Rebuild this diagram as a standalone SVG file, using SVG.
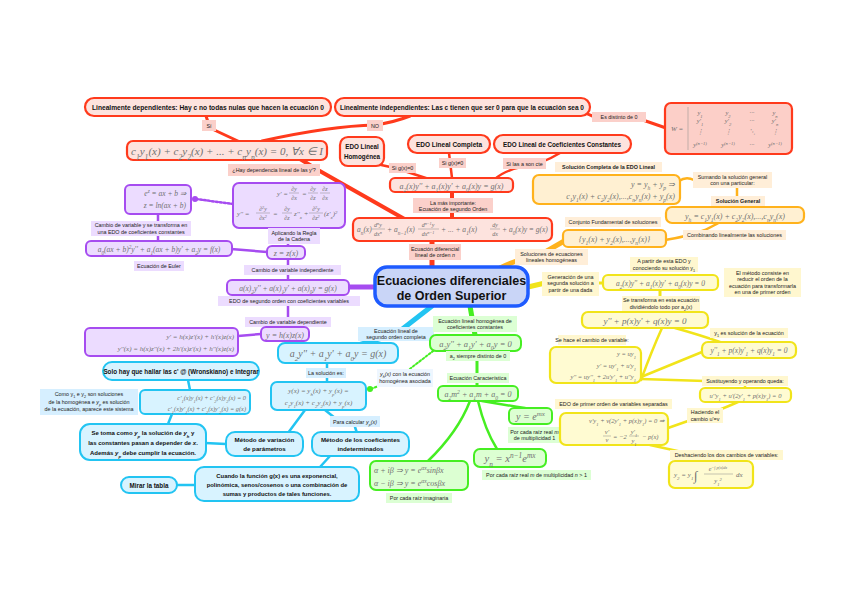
<svg xmlns="http://www.w3.org/2000/svg" width="848" height="599" viewBox="0 0 848 599">
<style>
.l{font-family:"Liberation Sans",Arial,sans-serif;font-size:5.4px;fill:#222;text-anchor:middle}
.bt{font-family:"Liberation Sans",Arial,sans-serif;font-weight:bold;fill:#111;text-anchor:middle}
.eq{font-family:"Liberation Serif","Times New Roman",serif;font-style:italic;fill:#707070}
.m{text-anchor:middle}.e{text-anchor:end}
.s{font-size:70%;baseline-shift:sub}.p{font-size:70%;baseline-shift:super}
.rn{fill:#fde3de;stroke:#ff3a1c;stroke-width:2.2}
.rl{fill:#fbd0ca}
.pn{fill:#ecdcff;stroke:#a64cf0;stroke-width:2}
.pl{fill:#ecdcff}
.cn{fill:#d8f3ff;stroke:#22c4f2;stroke-width:2}
.cl{fill:#d6efff}
.gn{fill:#dcffd2;stroke:#46ee22;stroke-width:2}
.gl{fill:#dcffd4}
.on{fill:#fff0d2;stroke:#ffb21c;stroke-width:2.2}
.ol{fill:#ffeed8}
.yn{fill:#fffbd2;stroke:#f1e41a;stroke-width:2.2}
.yl{fill:#fff7cf}
.cr{fill:none;stroke:#ff3a1c;stroke-linecap:round;stroke-linejoin:round}
.cp{fill:none;stroke:#a64cf0;stroke-linecap:round}
.cc{fill:none;stroke:#22c4f2;stroke-linecap:round;stroke-linejoin:round}
.cg{fill:none;stroke:#46ee22;stroke-linecap:round;stroke-linejoin:round}
.co{fill:none;stroke:#ffb21c;stroke-linecap:round;stroke-linejoin:round}
.cy{fill:none;stroke:#f1e41a;stroke-linecap:round;stroke-linejoin:round}
.fl{stroke:#888;stroke-width:0.5}
</style>
<rect width="848" height="599" fill="#fff"/>
<g id="connectors">
<!-- red -->
<path class="cr" stroke-width="5" d="M432,268 L432,240"/>
<path class="cr" stroke-width="4" d="M452,218 L452,192"/>
<path class="cr" stroke-width="4" d="M408,221 L318,170 L300,159"/>
<path class="cr" stroke-width="3" d="M240,142 L210,128 L206,116"/>
<path class="cr" stroke-width="3" d="M262,141 Q330,126 375,125 Q395,122 410,116"/>
<path class="cr" stroke-width="3" d="M583,111 Q592,118 605,118 L640,119 L666,128"/>
<path class="cr" stroke-width="2.5" d="M372,163 L395,168 L432,180"/>
<path class="cr" stroke-width="2.5" d="M449,153 L452,178"/>
<path class="cr" stroke-width="2.5" d="M560,153 Q540,165 525,166 Q505,170 495,179"/>
<!-- purple -->
<path class="cp" stroke-width="5" d="M376,287 L348,287"/>
<path class="cp" stroke-width="2.5" d="M288,281 L288,258 M288,246 L288,228"/>
<path class="cp" stroke-width="2.5" d="M231,249 L267,252"/>
<path class="cp" stroke-width="2.5" d="M158,213 L158,241"/>
<path class="cp" stroke-width="2.5" stroke-dasharray="2,2" d="M196,199 L233,204"/>
<circle cx="195" cy="199" r="3" fill="#a64cf0"/>
<path class="cp" stroke-width="2.5" d="M288,294 L288,327"/>
<path class="cp" stroke-width="2.5" d="M261,334 L238,336"/>
<!-- cyan -->
<path class="cc" stroke-width="5" d="M432,306 L396,334 L355,346"/>
<path class="cc" stroke-width="2.5" d="M327,363 L327,382"/>
<path class="cc" stroke-width="2.5" d="M305,410 L288,433"/>
<path class="cc" stroke-width="2.5" d="M325,410 L335,418 M355,427 L357,433"/>
<path class="cc" stroke-width="2.5" d="M330,456 L320,467"/>
<path class="cc" stroke-width="2.5" d="M177,485 L195,485"/>
<path class="cc" stroke-width="2.5" d="M226,444 L205,443"/>
<path class="cc" stroke-width="2.5" d="M168,424 L172,414"/>
<path class="cc" stroke-width="2.5" d="M190,390 L188,380"/>
<!-- green -->
<path class="cg" stroke-width="5" d="M470,306 L475,335"/>
<path class="cg" stroke-width="3" d="M477,351 L477,386"/>
<path class="cg" stroke-width="2.5" d="M470,401 Q458,432 428,461"/>
<path class="cg" stroke-width="2.5" d="M478,401 Q485,430 497,449"/>
<path class="cg" stroke-width="2.5" d="M482,401 Q505,405 525,408"/>
<path class="cg" stroke-width="2" stroke-dasharray="2,2" d="M371,389 L398,378 L437,348"/>
<circle cx="370" cy="389" r="3" fill="#46ee22"/>
<!-- orange -->
<path class="co" stroke-width="5" d="M500,268 Q520,258 540,255 L566,240"/>
<path class="co" stroke-width="2.5" d="M665,240 Q690,236 705,230 Q715,225 720,222"/>
<path class="co" stroke-width="2.5" d="M737,207 L737,188"/>
<path class="co" stroke-width="2.5" d="M694,180 Q686,176 679,181"/>
<!-- yellow -->
<path class="cy" stroke-width="5" d="M528,287 L545,283"/>
<path class="cy" stroke-width="3" d="M598,283 L604,283"/>
<path class="cy" stroke-width="3" d="M660,290 L660,312"/>
<path class="cy" stroke-width="2.5" d="M662,328 Q652,350 641,380"/>
<path class="cy" stroke-width="2.5" d="M675,328 Q700,335 720,342"/>
<path class="cy" stroke-width="2.5" d="M641,377 L702,352"/>
<path class="cy" stroke-width="2.5" d="M641,379 L705,381"/>
<path class="cy" stroke-width="2.5" d="M745,386 L745,388"/>
<path class="cy" stroke-width="2.5" d="M738,402 Q720,410 705,415 L668,428"/>
<path class="cy" stroke-width="2.5" d="M650,445 L682,452 L700,461"/>
</g>

<!-- ===== RED ===== -->
<g id="lin-dep"><rect class="rn" x="85" y="98" width="246" height="18" rx="9"/><text class="bt" x="208" y="109.5" font-size="6.4" textLength="232" lengthAdjust="spacingAndGlyphs">Linealmente dependientes: Hay c no todas nulas que hacen la ecuación 0</text></g>
<g id="lbl-si"><rect class="rl" x="202" y="120" width="14" height="11"/><text class="l" x="209" y="127.5">Sí</text></g>
<g id="eq-c"><rect class="rn" x="127" y="141" width="200" height="19" rx="6"/><text class="eq m" x="227" y="155" font-size="11">c<tspan class="s">1</tspan>y<tspan class="s">1</tspan>(x) + c<tspan class="s">2</tspan>y<tspan class="s">2</tspan>(x) + ... + c<tspan class="s">n</tspan>y<tspan class="s">n</tspan>(x) = 0, ∀x ∈ I</text></g>
<g id="lbl-hay"><rect class="rl" x="228" y="164" width="92" height="12"/><text class="l" x="274" y="172">¿Hay dependencia lineal de las y<tspan class="p">i</tspan>?</text></g>
<g id="lin-indep"><rect class="rn" x="335" y="98" width="255" height="18" rx="9"/><text class="bt" x="462" y="109.5" font-size="6.4" textLength="244" lengthAdjust="spacingAndGlyphs">Linealmente independientes: Las c tienen que ser 0 para que la ecuación sea 0</text></g>
<g id="lbl-no"><rect class="rl" x="367" y="120" width="16" height="11"/><text class="l" x="375" y="127.5">NO</text></g>
<g id="lbl-dist"><rect class="rl" x="592" y="112" width="54" height="10"/><text class="l" x="619" y="119">Es distinto de 0</text></g>
<g id="wronsk"><rect x="665" y="103" width="127" height="51" rx="6" fill="#fccfc8" stroke="#ff3a1c" stroke-width="2.2"/>
<text class="eq" x="671" y="131" font-size="7">W =</text>
<line x1="688" y1="107" x2="688" y2="150" stroke="#888" stroke-width="0.5"/>
<g class="eq m" font-size="6.5"><text x="700" y="115">y<tspan class="s">1</tspan></text><text x="728" y="115">y<tspan class="s">2</tspan></text><text x="752" y="115">···</text><text x="775" y="115">y<tspan class="s">n</tspan></text>
<text x="700" y="123">y'<tspan class="s">1</tspan></text><text x="728" y="123">y'<tspan class="s">2</tspan></text><text x="752" y="123">···</text><text x="775" y="123">y'<tspan class="s">n</tspan></text>
<text x="700" y="134">⋮</text><text x="728" y="134">⋮</text><text x="752" y="134">⋱</text><text x="775" y="134">⋮</text>
<text x="700" y="147">y<tspan class="p">(n−1)</tspan></text><text x="728" y="147">y<tspan class="p">(n−1)</tspan></text><text x="752" y="147">···</text><text x="775" y="147">y<tspan class="p">(n−1)</tspan></text></g></g>
<g id="edo-homog"><rect class="rn" x="340" y="137" width="44" height="29" rx="8"/><text class="bt" x="362" y="149" font-size="6.3">EDO Lineal</text><text class="bt" x="362" y="159" font-size="6.3">Homogénea</text></g>
<g id="edo-compl"><rect class="rn" x="408" y="135" width="82" height="18" rx="9"/><text class="bt" x="449" y="146.5" font-size="6.5">EDO Lineal Completa</text></g>
<g id="edo-const"><rect class="rn" x="494" y="135" width="137" height="18" rx="9"/><text class="bt" x="562" y="146.5" font-size="6.3">EDO Lineal de Coeficientes Constantes</text></g>
<g id="lbl-g0"><rect class="rl" x="389" y="163" width="27" height="10"/><text class="l" x="402.5" y="170">Si g(x)=0</text></g>
<g id="lbl-gn0"><rect class="rl" x="439" y="158" width="27" height="10"/><text class="l" x="452.5" y="165">Si g(x)≠0</text></g>
<g id="lbl-cte"><rect class="rl" x="503" y="158" width="43" height="11"/><text class="l" x="524.5" y="165.5">Si las a son cte</text></g>
<g id="eq-ord2"><rect class="rn" x="390" y="178" width="123" height="14" rx="5"/><text class="eq m" x="451.5" y="188.5" font-size="8">a<tspan class="s">2</tspan>(x)y'' + a<tspan class="s">1</tspan>(x)y' + a<tspan class="s">0</tspan>(x)y = g(x)</text></g>
<g id="lbl-imp"><rect class="rl" x="413" y="198" width="80" height="15"/><text class="l" x="453" y="204.5">La más importante:</text><text class="l" x="453" y="210.5">Ecuación de segundo Orden</text></g>
<g id="eq-ordn"><rect class="rn" x="353" y="218" width="199" height="23" rx="6"/>
<g class="eq" font-size="7.5"><text x="357" y="232">a<tspan class="s">n</tspan>(x)</text>
<text class="m" x="378" y="227" font-size="6">d<tspan class="p">n</tspan>y</text><line class="fl" x1="372" y1="229" x2="385" y2="229"/><text class="m" x="378" y="236" font-size="6">dx<tspan class="p">n</tspan></text>
<text x="387" y="232">+ a<tspan class="s">n−1</tspan>(x)</text>
<text class="m" x="428" y="227" font-size="6">d<tspan class="p">n−1</tspan>y</text><line class="fl" x1="418" y1="229" x2="439" y2="229"/><text class="m" x="428" y="236" font-size="6">dx<tspan class="p">n−1</tspan></text>
<text x="441" y="232">+ ... + a<tspan class="s">1</tspan>(x)</text>
<text class="m" x="495" y="227" font-size="6">dy</text><line class="fl" x1="490" y1="229" x2="500" y2="229"/><text class="m" x="495" y="236" font-size="6">dx</text>
<text x="502" y="232">+ a<tspan class="s">0</tspan>(x)y = g(x)</text></g></g>
<g id="lbl-ordn"><rect class="rl" x="409" y="244" width="52" height="16"/><text class="l" x="435" y="250.5">Ecuación diferencial</text><text class="l" x="435" y="257">lineal de orden <tspan font-style="italic">n</tspan></text></g>

<!-- ===== CENTER ===== -->
<g id="center"><rect x="375" y="267" width="153" height="39" rx="12" fill="#c9d5f7" stroke="#1e5bff" stroke-width="3.5"/>
<text class="bt" x="451.5" y="284.5" font-size="12.5">Ecuaciones diferenciales</text><text class="bt" x="451.5" y="299.5" font-size="12.5">de Orden Superior</text></g>

<!-- ===== PURPLE ===== -->
<g id="chain"><rect class="pn" x="233" y="183" width="112" height="45" rx="6"/>
<g class="eq" font-size="7"><text x="277" y="196">y' =</text>
<text class="m" x="294" y="191" font-size="6">∂y</text><line class="fl" x1="289" y1="193" x2="299" y2="193"/><text class="m" x="294" y="200" font-size="6">∂x</text>
<text x="302" y="196">=</text>
<text class="m" x="313" y="191" font-size="6">∂y</text><line class="fl" x1="308" y1="193" x2="318" y2="193"/><text class="m" x="313" y="200" font-size="6">∂z</text>
<text class="m" x="325" y="191" font-size="6">∂z</text><line class="fl" x1="320" y1="193" x2="330" y2="193"/><text class="m" x="325" y="200" font-size="6">∂x</text>
<text x="237" y="216">y'' =</text>
<text class="m" x="263" y="211" font-size="6">∂<tspan class="p">2</tspan>y</text><line class="fl" x1="256" y1="213" x2="270" y2="213"/><text class="m" x="263" y="220" font-size="6">∂x<tspan class="p">2</tspan></text>
<text x="273" y="216">=</text>
<text class="m" x="287" y="211" font-size="6">∂y</text><line class="fl" x1="282" y1="213" x2="292" y2="213"/><text class="m" x="287" y="220" font-size="6">∂z</text>
<text x="294" y="216">z''<tspan class="s">x</tspan> +</text>
<text class="m" x="316" y="211" font-size="6">∂<tspan class="p">2</tspan>y</text><line class="fl" x1="309" y1="213" x2="323" y2="213"/><text class="m" x="316" y="220" font-size="6">∂z<tspan class="p">2</tspan></text>
<text x="324" y="216">(z'<tspan class="s">x</tspan>)<tspan class="p">2</tspan></text></g></g>
<g id="ez"><rect class="pn" x="125" y="185" width="66" height="29" rx="5"/><text class="eq e" x="186" y="196" font-size="7.5">e<tspan class="p">z</tspan> = ax + b ⇒</text><text class="eq e" x="186" y="208" font-size="7.5">z = ln(ax + b)</text></g>
<g id="lbl-cambio-cc"><rect class="pl" x="91" y="221" width="100" height="15"/><text class="l" x="141" y="227">Cambio de variable y se transforma en</text><text class="l" x="141" y="233.5">una EDO de coeficientes constantes</text></g>
<g id="euler"><rect class="pn" x="86" y="241" width="146" height="15" rx="5"/><text class="eq m" x="159" y="251.5" font-size="7.5">a<tspan class="s">0</tspan>(ax + b)<tspan class="p">2</tspan>y'' + a<tspan class="s">1</tspan>(ax + b)y' + a<tspan class="s">2</tspan>y = f(x)</text></g>
<g id="lbl-euler"><rect class="pl" x="134" y="261" width="50" height="10"/><text class="l" x="159" y="268">Ecuación de Euler</text></g>
<g id="lbl-cadena"><rect class="pl" x="268" y="228" width="52" height="16"/><text class="l" x="294" y="234.5">Aplicando la Regla</text><text class="l" x="294" y="241">de la Cadena</text></g>
<g id="zz"><rect class="pn" x="267" y="246" width="38" height="13" rx="5"/><text class="eq m" x="286" y="255.5" font-size="8">z = z(x)</text></g>
<g id="lbl-indep"><rect class="pl" x="244" y="265" width="97" height="10"/><text class="l" x="292.5" y="272">Cambio de variable independiente</text></g>
<g id="eq-var"><rect class="pn" x="227" y="280" width="122" height="15" rx="5"/><text class="eq m" x="288" y="290.5" font-size="7.5">a(x)<tspan class="s">2</tspan>y'' + a(x)<tspan class="s">1</tspan>y' + a(x)<tspan class="s">0</tspan>y = g(x)</text></g>
<g id="lbl-coefvar"><rect class="pl" x="218" y="296" width="142" height="10"/><text class="l" x="289" y="303">EDO de segundo orden con coeficientes variables</text></g>
<g id="lbl-dep"><rect class="pl" x="245" y="317" width="86" height="10"/><text class="l" x="288" y="324">Cambio de variable dependiente</text></g>
<g id="yh"><rect class="pn" x="261" y="327" width="48" height="14" rx="5"/><text class="eq m" x="285" y="337.5" font-size="8">y = h(x)z(x)</text></g>
<g id="yder"><rect class="pn" x="85" y="328" width="153" height="28" rx="5"/><text class="eq e" x="234" y="339" font-size="7">y' = h(x)z'(x) + h'(x)z(x)</text><text class="eq e" x="234" y="351" font-size="7">y''(x) = h(x)z''(x) + 2h'(x)z'(x) + h''(x)z(x)</text></g>

<!-- ===== CYAN ===== -->
<g id="lbl-compl"><rect class="cl" x="358" y="327" width="76" height="14"/><text class="l" x="396" y="332.5">Ecuación lineal de</text><text class="l" x="396" y="338.5">segundo orden completa</text></g>
<g id="eq-compl"><rect class="cn" x="278" y="343" width="120" height="20" rx="7"/><text class="eq m" x="338" y="357" font-size="10">a<tspan class="s">2</tspan>y'' + a<tspan class="s">1</tspan>y' + a<tspan class="s">0</tspan>y = g(x)</text></g>
<g id="lbl-sol"><rect class="cl" x="306" y="368" width="40" height="10"/><text class="l" x="326" y="375">La solución es:</text></g>
<g id="eq-sol"><rect class="cn" x="271" y="382" width="95" height="28" rx="6"/><text class="eq m" x="318.5" y="393" font-size="7">y(x) = y<tspan class="s">h</tspan>(x) + y<tspan class="s">p</tspan>(x) =</text><text class="eq m" x="318.5" y="405" font-size="7">c<tspan class="s">1</tspan>y<tspan class="s">1</tspan>(x) + c<tspan class="s">2</tspan>y<tspan class="s">2</tspan>(x) + y<tspan class="s">p</tspan>(x)</text></g>
<g id="lbl-homasoc"><rect x="377" y="369" width="56" height="18" fill="#eef6ff"/><text class="l" x="405" y="376"><tspan font-style="italic">y<tspan class="s">h</tspan>(x)</tspan> con la ecuación</text><text class="l" x="405" y="383">homogénea asociada</text></g>
<g id="lbl-yp"><rect class="cl" x="330" y="416" width="50" height="11"/><text class="l" x="355" y="423.5">Para calcular <tspan font-style="italic">y<tspan class="s">p</tspan>(x)</tspan></text></g>
<g id="var-param"><rect class="cn" x="226" y="432" width="77" height="24" rx="9"/><text class="bt" x="264.5" y="442" font-size="6.2">Método de variación</text><text class="bt" x="264.5" y="451" font-size="6.2">de parámetros</text></g>
<g id="coef-indet"><rect class="cn" x="312" y="432" width="97" height="24" rx="9"/><text class="bt" x="360.5" y="442" font-size="6.2">Método de los coeficientes</text><text class="bt" x="360.5" y="451" font-size="6.2">indeterminados</text></g>
<g id="cuando"><rect class="cn" x="195" y="467" width="164" height="34" rx="9"/><text class="bt" x="277" y="477.5" font-size="5.9">Cuando la función g(x) es una exponencial,</text><text class="bt" x="277" y="486.5" font-size="5.9">polinómica, senos/cosenos o una combinación de</text><text class="bt" x="277" y="495.5" font-size="5.9">sumas y productos de tales funciones.</text></g>
<g id="tabla"><rect class="cn" x="121" y="477" width="56" height="16" rx="8"/><text class="bt" x="149" y="487.5" font-size="6.3">Mirar la tabla</text></g>
<g id="se-toma"><rect class="cn" x="80" y="424" width="126" height="36" rx="10"/><text class="bt" x="143" y="435" font-size="6">Se toma como <tspan font-style="italic">y<tspan class="s">p</tspan></tspan> la solución de <tspan font-style="italic">y<tspan class="s">h</tspan></tspan> y</text><text class="bt" x="143" y="445" font-size="6">las constantes pasan a depender de <tspan font-style="italic">x</tspan>.</text><text class="bt" x="143" y="455" font-size="6">Además <tspan font-style="italic">y<tspan class="s">p</tspan></tspan> debe cumplir la ecuación.</text></g>
<g id="sistema"><rect class="cn" x="140" y="390" width="110" height="24" rx="5"/><text class="eq e" x="246" y="400" font-size="6.3">c'<tspan class="s">1</tspan>(x)y<tspan class="s">1</tspan>(x) + c'<tspan class="s">2</tspan>(x)y<tspan class="s">2</tspan>(x) = 0</text><text class="eq e" x="246" y="410.5" font-size="6.3">c'<tspan class="s">1</tspan>(x)y'<tspan class="s">1</tspan>(x) + c'<tspan class="s">2</tspan>(x)y'<tspan class="s">2</tspan>(x) = g(x)</text></g>
<g id="lbl-como"><rect class="cl" x="40" y="389" width="98" height="26"/><text class="l" x="89" y="396">Como y<tspan class="s">1</tspan> e y<tspan class="s">2</tspan> son soluciones</text><text class="l" x="89" y="403.5">de la homogénea e <tspan font-style="italic">y<tspan class="s">p</tspan></tspan> es solución</text><text class="l" x="89" y="411">de la ecuación, aparece este sistema</text></g>
<g id="solo"><rect class="cn" x="103" y="362" width="156" height="18" rx="9"/><text class="bt" x="181" y="373.5" font-size="6.3">Solo hay que hallar las c' @ (Wronskiano) e Integrar</text></g>

<!-- ===== GREEN ===== -->
<g id="lbl-homcc"><rect class="gl" x="433" y="316" width="84" height="16"/><text class="l" x="475" y="322.5">Ecuación lineal homogénea de</text><text class="l" x="475" y="329">coeficientes constantes</text></g>
<g id="eq-hom"><rect class="gn" x="430" y="335" width="91" height="16" rx="6"/><text class="eq m" x="475.5" y="346.5" font-size="8.5">a<tspan class="s">2</tspan>y'' + a<tspan class="s">1</tspan>y' + a<tspan class="s">0</tspan>y = 0</text></g>
<g id="lbl-a2"><rect class="gl" x="446" y="351" width="64" height="10"/><text class="l" x="478" y="358">a<tspan class="s">2</tspan> siempre distinto de 0</text></g>
<g id="lbl-car"><rect class="gl" x="447" y="373" width="62" height="10"/><text class="l" x="478" y="380">Ecuación Característica</text></g>
<g id="eq-car"><rect class="gn" x="438" y="386" width="80" height="15" rx="5"/><text class="eq m" x="478" y="396.5" font-size="8">a<tspan class="s">2</tspan>m<tspan class="p">2</tspan> + a<tspan class="s">1</tspan>m + a<tspan class="s">0</tspan> = 0</text></g>
<g id="emx"><rect class="gn" x="509" y="408" width="43" height="16" rx="5"/><text class="eq m" x="530.5" y="420" font-size="10">y = e<tspan class="p">mx</tspan></text></g>
<g id="lbl-mult1"><rect class="gl" x="508" y="427" width="53" height="16"/><text class="l" x="534.5" y="433.5">Por cada raíz real <tspan font-style="italic">m</tspan></text><text class="l" x="534.5" y="440">de multiplicidad 1</text></g>
<g id="yn"><rect class="gn" x="474" y="449" width="72" height="18" rx="6"/><text class="eq m" x="510" y="462" font-size="10.5">y<tspan class="s">n</tspan> = x<tspan class="p">n−1</tspan>e<tspan class="p">mx</tspan></text></g>
<g id="lbl-multn"><rect class="gl" x="482" y="470" width="109" height="10"/><text class="l" x="536.5" y="477">Por cada raíz real <tspan font-style="italic">m</tspan> de multiplicidad <tspan font-style="italic">n</tspan> &gt; 1</text></g>
<g id="imag"><rect class="gn" x="370" y="461" width="98" height="29" rx="6"/><text class="eq" x="374" y="472.5" font-size="8">α + iβ ⇒ y = e<tspan class="p">αx</tspan>sinβx</text><text class="eq" x="374" y="485.5" font-size="8">α − iβ ⇒ y = e<tspan class="p">αx</tspan>cosβx</text></g>
<g id="lbl-imag"><rect class="gl" x="386" y="493" width="66" height="10"/><text class="l" x="419" y="500">Por cada raíz imaginaria</text></g>

<!-- ===== ORANGE ===== -->
<g id="lbl-solhom"><rect class="ol" x="515" y="249" width="73" height="16"/><text class="l" x="551.5" y="255.5">Soluciones de ecuaciones</text><text class="l" x="551.5" y="262">lineales homogéneas</text></g>
<g id="conj"><rect class="on" x="563" y="230" width="103" height="17" rx="5"/><text class="eq m" x="614.5" y="242" font-size="8">{y<tspan class="s">1</tspan>(x) + y<tspan class="s">2</tspan>(x),...,y<tspan class="s">n</tspan>(x)}</text></g>
<g id="lbl-conj"><rect class="ol" x="565" y="217" width="96" height="10"/><text class="l" x="613" y="224">Conjunto Fundamental de soluciones</text></g>
<g id="lbl-comb"><rect class="ol" x="683" y="230" width="103" height="10"/><text class="l" x="734.5" y="237">Combinando linealmente las soluciones</text></g>
<g id="ygen"><rect class="on" x="666" y="207" width="138" height="16" rx="6"/><text class="eq m" x="735" y="218.5" font-size="8">y<tspan class="s">h</tspan> = c<tspan class="s">1</tspan>y<tspan class="s">1</tspan>(x) + c<tspan class="s">2</tspan>y<tspan class="s">2</tspan>(x),...,c<tspan class="s">n</tspan>y<tspan class="s">n</tspan>(x)</text></g>
<g id="lbl-solgen"><rect class="ol" x="711" y="196" width="54" height="10"/><text class="l" x="738" y="203" font-weight="bold">Solución General</text></g>
<g id="lbl-sumando"><rect class="ol" x="693" y="172" width="79" height="16"/><text class="l" x="732.5" y="178.5">Sumando la solución general</text><text class="l" x="732.5" y="185">con una particular:</text></g>
<g id="ycompl"><rect class="on" x="533" y="175" width="147" height="29" rx="6"/><text class="eq e" x="675" y="186.5" font-size="8">y = y<tspan class="s">h</tspan> + y<tspan class="s">p</tspan> ⇒</text><text class="eq e" x="675" y="199" font-size="8">c<tspan class="s">1</tspan>y<tspan class="s">1</tspan>(x) + c<tspan class="s">2</tspan>y<tspan class="s">2</tspan>(x),...,c<tspan class="s">n</tspan>y<tspan class="s">n</tspan>(x) + y<tspan class="s">p</tspan>(x)</text></g>
<g id="lbl-solcompl"><rect class="ol" x="555" y="162" width="107" height="10"/><text class="l" x="608.5" y="169" font-weight="bold">Solución Completa de la EDO Lineal</text></g>

<!-- ===== YELLOW ===== -->
<g id="lbl-gen"><rect class="yl" x="542" y="272" width="57" height="24"/><text class="l" x="570.5" y="278.5">Generación de una</text><text class="l" x="570.5" y="285">segunda solución a</text><text class="l" x="570.5" y="291.5">partir de una dada</text></g>
<g id="eq-y0"><rect class="yn" x="603" y="275" width="115" height="15" rx="5"/><text class="eq m" x="660.5" y="285.5" font-size="7.5">a<tspan class="s">2</tspan>(x)y'' + a<tspan class="s">1</tspan>(x)y' + a<tspan class="s">0</tspan>(x)y = 0</text></g>
<g id="lbl-apartir"><rect class="yl" x="630" y="257" width="68" height="15"/><text class="l" x="664" y="263">A partir de esta EDO y</text><text class="l" x="664" y="269.5">conociendo su solución y<tspan class="s">1</tspan></text></g>
<g id="lbl-metodo"><rect class="yl" x="724" y="268" width="77" height="29"/><text class="l" x="762.5" y="274.5">El método consiste en</text><text class="l" x="762.5" y="281">reducir el orden de la</text><text class="l" x="762.5" y="287.5">ecuación para transformarla</text><text class="l" x="762.5" y="294">en una de primer orden</text></g>
<g id="lbl-transf"><rect class="yl" x="622" y="296" width="78" height="15"/><text class="l" x="661" y="302">Se transforma en esta ecuación</text><text class="l" x="661" y="308.5">dividiéndolo todo por a<tspan class="s">2</tspan>(x)</text></g>
<g id="eq-pq"><rect class="yn" x="582" y="312" width="126" height="16" rx="6"/><text class="eq m" x="645" y="323.5" font-size="9">y'' + p(x)y' + q(x)y = 0</text></g>
<g id="eq-u"><rect class="yn" x="550" y="347" width="91" height="36" rx="6"/><text class="eq e" x="636" y="356" font-size="6.5">y = uy<tspan class="s">1</tspan></text><text class="eq e" x="636" y="367.5" font-size="6.5">y' = uy'<tspan class="s">1</tspan> + u'y<tspan class="s">1</tspan></text><text class="eq e" x="636" y="379" font-size="6.5">y'' = uy''<tspan class="s">1</tspan> + 2u'y'<tspan class="s">1</tspan> + u''y<tspan class="s">1</tspan></text></g>
<g id="lbl-cambio"><rect class="yl" x="558" y="335" width="68" height="10"/><text class="l" x="592" y="342">Se hace el cambio de variable:</text></g>
<g id="lbl-y1sol"><rect class="yl" x="710" y="328" width="78" height="10"/><text class="l" x="749" y="335">y<tspan class="s">1</tspan> es solución de la ecuación</text></g>
<g id="eq-y1"><rect class="yn" x="702" y="342" width="94" height="16" rx="6"/><text class="eq m" x="749" y="353" font-size="7.5">y''<tspan class="s">1</tspan> + p(x)y'<tspan class="s">1</tspan> + q(x)y<tspan class="s">1</tspan> = 0</text></g>
<g id="lbl-sust"><rect class="yl" x="702" y="376" width="86" height="10"/><text class="l" x="745" y="383">Sustituyendo y operando queda:</text></g>
<g id="eq-upp"><rect class="yn" x="700" y="388" width="91" height="14" rx="5"/><text class="eq m" x="745.5" y="397.5" font-size="6.5">u''y<tspan class="s">1</tspan> + u'(2y'<tspan class="s">1</tspan> + p(x)y<tspan class="s">1</tspan>) = 0</text></g>
<g id="lbl-sep"><rect class="yl" x="555" y="399" width="117" height="10"/><text class="l" x="613.5" y="406">EDO de primer orden de variables separadas</text></g>
<g id="lbl-haciendo"><rect class="yl" x="687" y="408" width="36" height="15"/><text class="l" x="705" y="414">Haciendo el</text><text class="l" x="705" y="420.5">cambio u'=v</text></g>
<g id="eq-v"><rect class="yn" x="560" y="413" width="108" height="32" rx="6"/><text class="eq e" x="664" y="423" font-size="6.5">v'y<tspan class="s">1</tspan> + v(2y'<tspan class="s">1</tspan> + p(x)y<tspan class="s">1</tspan>) = 0 ⇒</text>
<g class="eq" font-size="6.5"><text class="m" x="607" y="434">v'</text><line class="fl" x1="603" y1="436" x2="611" y2="436"/><text class="m" x="607" y="442">v</text><text x="613" y="438.5">= −2</text>
<text class="m" x="634" y="434">y'<tspan class="s">1</tspan></text><line class="fl" x1="629" y1="436" x2="639" y2="436"/><text class="m" x="634" y="442.5">y<tspan class="s">1</tspan></text><text x="642" y="438.5">− p(x)</text></g></g>
<g id="lbl-desh"><rect class="yl" x="670" y="450" width="113" height="10"/><text class="l" x="726.5" y="457">Deshaciendo los dos cambios de variables:</text></g>
<g id="eq-y2"><rect class="yn" x="669" y="461" width="84" height="27" rx="6"/><g class="eq" font-size="7"><text x="674" y="477">y<tspan class="s">2</tspan> = y<tspan class="s">1</tspan></text><text x="694" y="480" font-size="13">∫</text>
<text class="m" x="718" y="471" font-size="6">e<tspan class="p">−∫ p(x)dx</tspan></text><line class="fl" x1="704" y1="474" x2="733" y2="474"/><text class="m" x="718" y="483" font-size="6.5">y<tspan class="s">1</tspan><tspan class="p">2</tspan></text><text x="736" y="477">dx</text></g></g>
</svg>
